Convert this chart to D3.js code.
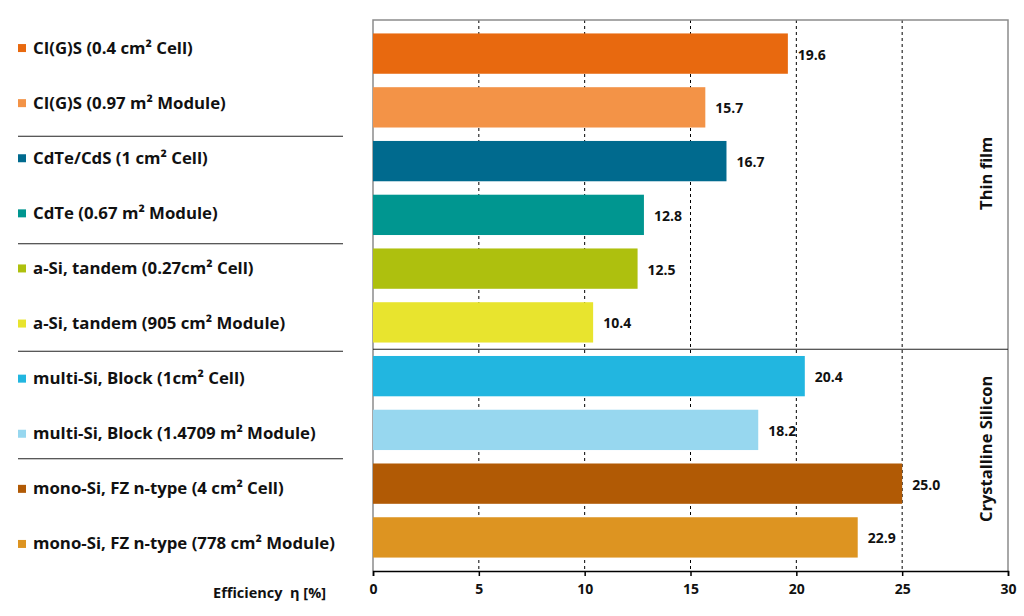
<!DOCTYPE html>
<html><head><meta charset="utf-8">
<script src="https://cdn.jsdelivr.net/npm/d3@7"></script>
<style>body{margin:0;background:#fff}svg{display:block}</style>
</head><body>
<svg id="c" width="1024" height="616"></svg>
<script>
const categories = [
  "CI(G)S (0.4 cm² Cell)",
  "CI(G)S (0.97 m² Module)",
  "CdTe/CdS (1 cm² Cell)",
  "CdTe (0.67 m² Module)",
  "a-Si, tandem (0.27cm² Cell)",
  "a-Si, tandem (905 cm² Module)",
  "multi-Si, Block (1cm² Cell)",
  "multi-Si, Block (1.4709 m² Module)",
  "mono-Si, FZ n-type (4 cm² Cell)",
  "mono-Si, FZ n-type (778 cm² Module)"
];
const efficiency = [19.6, 15.7, 16.7, 12.8, 12.5, 10.4, 20.4, 18.2, 25.0, 22.9];
const colors = ["#E8690F","#F39347","#006A8E","#009690","#AEC00E","#E8E42E","#22B6E0","#97D7EF","#B15A05","#DD9421"];
const groupEnds = [1, 3, 5, 7];           // index of last item before a separator
const groups = [{name:"Thin film", from:0, to:5},{name:"Crystalline Silicon", from:6, to:9}];
const xTicks = [0, 5, 10, 15, 20, 25, 30];
const xDomain = [0, 30];
const axisTitle = "Efficiency  η [%]";

const svg = d3.select("#c");
const font = "'Open Sans', sans-serif";
const L = 373, R = 1008, T = 20, B = 571;

const x = d3.scaleLinear().domain(xDomain).range([L, R]);
const yBar = d3.scaleBand().domain(d3.range(categories.length)).range([T, B]).padding(0.25);
const yLab = d3.scaleBand().domain(d3.range(categories.length)).range([T, B]).padding(0);
const gapMid = i => yBar(i) + yBar.bandwidth() + (yBar.step() - yBar.bandwidth()) / 2;

// gridlines
svg.append("g").selectAll("line").data(xTicks.filter(t => t > 0 && t < 30)).join("line")
  .attr("x1", d => x(d)).attr("x2", d => x(d)).attr("y1", T).attr("y2", B)
  .attr("stroke", "#000").attr("stroke-width", 1).attr("stroke-dasharray", "3,3");

// frame
svg.append("path").attr("d", `M${L},${B} V${T} H${R} V${B}`)
  .attr("fill", "none").attr("stroke", "#8c8c8c").attr("stroke-width", 1.5);

// bars
svg.append("g").selectAll("rect").data(efficiency).join("rect")
  .attr("x", x(0)).attr("y", (d, i) => yBar(i))
  .attr("width", d => x(d) - x(0)).attr("height", yBar.bandwidth())
  .attr("fill", (d, i) => colors[i]);

// value labels
svg.append("g").selectAll("text").data(efficiency).join("text")
  .attr("x", d => x(d) + 10).attr("y", (d, i) => yBar(i) + yBar.bandwidth() / 2 + 6)
  .attr("font-family", font).attr("font-weight", 700).attr("font-size", 14).attr("fill", "#111")
  .text(d => d.toFixed(1));

// axis
const axis = d3.axisBottom(x).tickValues(xTicks).tickSize(5).tickPadding(8).tickFormat(d3.format("d"));
const ag = svg.append("g").attr("transform", `translate(0,${B})`).call(axis);
ag.select(".domain").attr("stroke", "#000").attr("stroke-width", 1.5);
ag.selectAll(".tick line").attr("stroke", "#000").attr("stroke-width", 1.5);
ag.selectAll(".tick text").attr("font-family", font).attr("font-weight", 700).attr("font-size", 14).attr("fill", "#111");

svg.append("text").attr("x", 326).attr("y", 598).attr("text-anchor", "end")
  .attr("font-family", font).attr("font-weight", 700).attr("font-size", 14.5).attr("fill", "#111")
  .attr("xml:space", "preserve").text(axisTitle);

// left category labels
const lg = svg.append("g");
lg.selectAll("rect").data(categories).join("rect")
  .attr("x", 18).attr("y", (d, i) => yLab(i) + yLab.bandwidth() / 2 - 3.5)
  .attr("width", 8).attr("height", 8).attr("fill", (d, i) => colors[i]);
lg.selectAll("text").data(categories).join("text")
  .attr("x", 33).attr("y", (d, i) => yLab(i) + yLab.bandwidth() / 2 + 6)
  .attr("font-family", font).attr("font-weight", 700).attr("font-size", 16.8).attr("fill", "#111")
  .text(d => d);

// separators on the left
svg.append("g").selectAll("line").data(groupEnds).join("line")
  .attr("x1", 18).attr("x2", 343)
  .attr("y1", d => gapMid(d) + 2).attr("y2", d => gapMid(d) + 2)
  .attr("stroke", "#222").attr("stroke-width", 1.2);

// separator inside plot between groups
svg.append("line")
  .attr("x1", L).attr("x2", R)
  .attr("y1", gapMid(groups[0].to)).attr("y2", gapMid(groups[0].to))
  .attr("stroke", "#222").attr("stroke-width", 1.2);

// group labels (rotated)
svg.append("g").selectAll("text").data(groups).join("text")
  .attr("transform", d => {
    const cy = (yLab(d.from) + yLab(d.to) + yLab.step()) / 2 - 12;
    return `translate(${R - 16},${cy}) rotate(-90)`;
  })
  .attr("text-anchor", "middle")
  .attr("font-family", font).attr("font-weight", 700).attr("font-size", 16.5).attr("fill", "#111")
  .text(d => d.name);
</script>
</body></html>
